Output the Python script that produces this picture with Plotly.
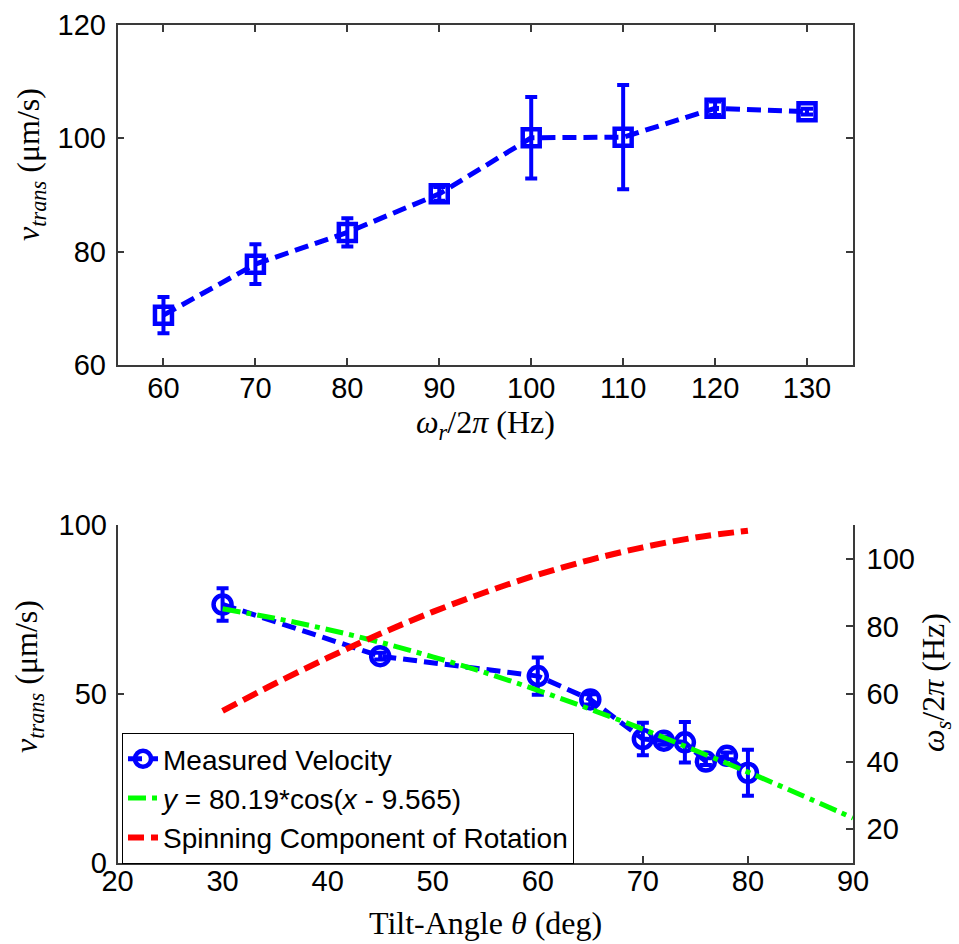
import plotly.graph_objects as go

# ---- data ----
freq = [60, 70, 80, 90, 100, 110, 120, 130]
v_freq = [68.8, 77.8, 83.4, 90.2, 100.1, 100.2, 105.3, 104.7]
v_freq_err = [3.2, 3.5, 2.5, 1.2, 7.2, 9.2, 1.2, 0.5]

tilt = [30, 45, 60, 65, 70, 72, 74, 76, 78, 80]
v_tilt = [76.5, 61.2, 55.3, 48.4, 36.7, 36.2, 35.7, 30.0, 31.7, 26.7]
v_tilt_err = [4.8, 1.0, 5.5, 1.5, 4.8, 1.2, 6.0, 1.0, 1.0, 6.8]

fit_x = [30, 35, 40, 45, 50, 55, 60, 65, 70, 75, 80, 85, 90]
fit_y = [75.2, 72.4, 69.1, 65.3, 61.0, 56.3, 51.1, 45.5, 39.6, 33.3, 26.9, 20.2, 13.3]

spin_x = [30, 35, 40, 45, 50, 55, 60, 65, 70, 75, 80]
spin_y = [55.0, 63.1, 70.7, 77.8, 84.3, 90.1, 95.3, 99.7, 103.4, 106.3, 108.3]

top_xticks = [60, 70, 80, 90, 100, 110, 120, 130]
top_yticks = [60, 80, 100, 120]
bot_xticks = [20, 30, 40, 50, 60, 70, 80, 90]
bot_yticks = [0, 50, 100]
right_yticks = [20, 40, 60, 80, 100]

BLUE = "rgb(0,0,255)"
GREEN = "rgb(0,255,0)"
RED = "rgb(255,0,0)"
AXC = "#3a3a3a"
SANS = "Liberation Sans, Arial, sans-serif"
SERIF = "Liberation Serif, Times New Roman, serif"

fig = go.Figure()

fig.add_trace(go.Scatter(
    x=freq, y=v_freq, xaxis="x", yaxis="y", mode="lines+markers",
    line=dict(color=BLUE, width=5, dash="14px,7px"),
    marker=dict(symbol="square-open", size=17, color=BLUE, line=dict(color=BLUE, width=4.5)),
    error_y=dict(type="data", array=v_freq_err, color=BLUE, thickness=4, width=6),
    showlegend=False,
))

fig.add_trace(go.Scatter(
    x=tilt, y=v_tilt, xaxis="x2", yaxis="y2", mode="lines+markers",
    name="Measured Velocity",
    line=dict(color=BLUE, width=5, dash="14px,7px"),
    marker=dict(symbol="circle-open", size=18, color=BLUE, line=dict(color=BLUE, width=4.5)),
    error_y=dict(type="data", array=v_tilt_err, color=BLUE, thickness=4, width=6),
))

fig.add_trace(go.Scatter(
    x=fit_x, y=fit_y, xaxis="x2", yaxis="y2", mode="lines",
    name="<i>y</i> = 80.19*cos(<i>x</i> - 9.565)",
    line=dict(color=GREEN, width=5, dash="18px,6px,5px,6px", shape="spline"),
))

fig.add_trace(go.Scatter(
    x=spin_x, y=spin_y, xaxis="x2", yaxis="y3", mode="lines",
    name="Spinning Component of Rotation",
    line=dict(color=RED, width=6, dash="16px,7px", shape="spline"),
))

XD = [117.5 / 959, 853 / 959]
tickfont = dict(family=SANS, size=29, color="black")

common_ax = dict(showline=True, linecolor=AXC, linewidth=1.5, ticks="inside",
                 ticklen=7, tickcolor=AXC, tickwidth=1.5, showgrid=False,
                 zeroline=False, tickfont=tickfont, automargin=False)

fig.update_layout(
    template="none",
    width=959, height=944,
    margin=dict(l=0, r=0, t=0, b=0, autoexpand=False),
    paper_bgcolor="white", plot_bgcolor="white",
    xaxis=dict(domain=XD, anchor="y", range=[55, 135], tickvals=top_xticks,
               mirror="ticks", ticklabelstandoff=-4, **common_ax),
    yaxis=dict(domain=[1 - 365 / 944, 1 - 25 / 944], anchor="x", range=[60, 120],
               tickvals=top_yticks, mirror="ticks", ticklabelstandoff=4, **common_ax),
    xaxis2=dict(domain=XD, anchor="y2", range=[20, 90], tickvals=bot_xticks,
                ticklabelstandoff=-9, **common_ax),
    yaxis2=dict(domain=[1 - 863 / 944, 1 - 525 / 944], anchor="x2", range=[0, 100],
                tickvals=bot_yticks, ticklabelstandoff=3, **common_ax),
    yaxis3=dict(overlaying="y2", anchor="x2", side="right", range=[10, 110],
                tickvals=right_yticks, ticklabelstandoff=6, **common_ax),
    legend=dict(x=122 / 959, y=1 - 733 / 944, xanchor="left", yanchor="top",
                bgcolor="white", bordercolor="black", borderwidth=1,
                font=dict(family=SANS, size=28, color="black"),
                tracegroupgap=0),
    annotations=[
        dict(text="<i>ω</i><sub><i>r</i></sub>/2<i>π</i> (Hz)", xref="paper", yref="paper",
             x=485 / 959, y=1 - 425 / 944, xanchor="center", yanchor="middle",
             showarrow=False, font=dict(family=SERIF, size=32, color="black")),
        dict(text="Tilt-Angle <i>θ</i> (deg)", xref="paper", yref="paper",
             x=485 / 959, y=1 - 923 / 944, xanchor="center", yanchor="middle",
             showarrow=False, font=dict(family=SERIF, size=32, color="black")),
        dict(text="<i>v</i><sub><i>trans</i></sub> (μm/s)", xref="paper", yref="paper",
             x=30 / 959, y=1 - 165 / 944, xanchor="center", yanchor="middle", textangle=-90,
             showarrow=False, font=dict(family=SERIF, size=32, color="black")),
        dict(text="<i>v</i><sub><i>trans</i></sub> (μm/s)", xref="paper", yref="paper",
             x=28 / 959, y=1 - 677 / 944, xanchor="center", yanchor="middle", textangle=-90,
             showarrow=False, font=dict(family=SERIF, size=32, color="black")),
        dict(text="<i>ω</i><sub><i>s</i></sub>/2<i>π</i> (Hz)", xref="paper", yref="paper",
             x=935 / 959, y=1 - 683 / 944, xanchor="center", yanchor="middle", textangle=-90,
             showarrow=False, font=dict(family=SERIF, size=32, color="black")),
    ],
)

fig.write_html("out.html")
